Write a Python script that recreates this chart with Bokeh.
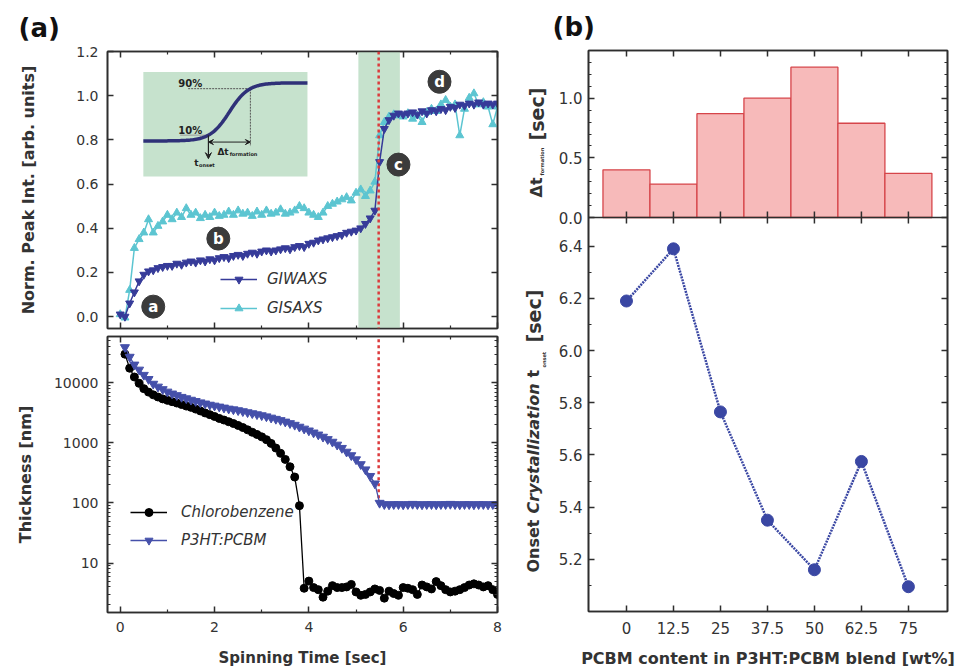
import numpy as np
from bokeh.plotting import figure
from bokeh.layouts import row, column
from bokeh.models import (LinearAxis, LogAxis, FixedTicker, Range1d, BoxAnnotation, Span,
                          Legend, LegendItem, Arrow, VeeHead, NumeralTickFormatter,
                          BasicTickFormatter, CustomLabelingPolicy)
from bokeh.core.properties import value
from bokeh.embed import file_html
from bokeh.resources import INLINE

FONT = "DejaVu Sans"
FRAME = "#2e2e2e"
TXT = "#333333"

# ---------------- (a) top: normalised peak intensity vs spinning time ----------------
time_xrd = [round(0.1 * i, 1) for i in range(81)]
giwaxs = [0.01, 0.00, 0.06, 0.11, 0.16, 0.19, 0.205, 0.21, 0.22, 0.225,
          0.23, 0.23, 0.24, 0.235, 0.245, 0.25, 0.245, 0.255, 0.25, 0.26,
          0.255, 0.265, 0.27, 0.265, 0.275, 0.28, 0.275, 0.285, 0.29, 0.285,
          0.295, 0.30, 0.295, 0.30, 0.305, 0.31, 0.305, 0.315, 0.32, 0.315,
          0.33, 0.335, 0.345, 0.35, 0.355, 0.36, 0.365, 0.37, 0.38, 0.385,
          0.39, 0.40, 0.42, 0.445, 0.48, 0.70, 0.85, 0.89, 0.91, 0.92,
          0.915, 0.92, 0.925, 0.915, 0.93, 0.92, 0.935, 0.93, 0.94, 0.935,
          0.95, 0.945, 0.96, 0.955, 0.965, 0.96, 0.97, 0.96, 0.965, 0.96,
          0.965]
gisaxs = [0.01, -0.005, 0.12, 0.31, 0.35, 0.38, 0.44, 0.38, 0.41, 0.43,
          0.46, 0.44, 0.47, 0.45, 0.49, 0.46, 0.47, 0.445, 0.46, 0.45,
          0.47, 0.455, 0.46, 0.475, 0.46, 0.48, 0.465, 0.47, 0.455, 0.475,
          0.46, 0.48, 0.465, 0.47, 0.485, 0.465, 0.47, 0.48, 0.50, 0.49,
          0.47, 0.46, 0.45, 0.47, 0.50, 0.51, 0.52, 0.53, 0.54, 0.525,
          0.56, 0.575, 0.545, 0.57, 0.61, 0.82, 0.88, 0.905, 0.915, 0.91,
          0.905, 0.92, 0.895, 0.91, 0.88, 0.925, 0.94, 0.93, 0.96, 0.98,
          0.95, 0.96, 0.82, 0.94, 0.99, 1.01, 0.96, 0.97, 0.95, 0.87,
          0.95]

# ---------------- (a) bottom: film thickness (nm) vs spinning time ----------------
time_thk = [round(0.1 * i, 1) for i in range(1, 81)]
chlorobenzene = [30000, 17500, 12500, 9800, 8000, 7000, 6300, 5800, 5400, 5100,
                 4850, 4600, 4350, 4100, 3900, 3650, 3400, 3150, 2950, 2750,
                 2550, 2400, 2250, 2100, 1950, 1800, 1650, 1500, 1380, 1260,
                 1130, 980, 820, 670, 530, 400, 270, 90, 3.8, 5.0,
                 3.9, 3.6, 2.7, 3.4, 4.2, 3.9, 3.9, 4.0, 4.4, 3.3,
                 2.9, 3.0, 3.3, 3.7, 3.5, 2.6, 3.4, 3.1, 2.9, 3.9,
                 3.8, 3.6, 3.0, 4.3, 4.0, 3.7, 4.9, 4.2, 3.6, 3.3,
                 3.4, 3.6, 3.9, 4.3, 4.5, 4.3, 4.0, 4.2, 3.6, 3.0]
p3ht_pcbm = [39000, 27000, 20000, 16500, 13500, 11500, 9600, 8600, 7800, 7100,
             6600, 6200, 5800, 5500, 5200, 4950, 4700, 4500, 4300, 4150,
             4000, 3850, 3700, 3600, 3480, 3350, 3220, 3100, 2980, 2870,
             2750, 2620, 2500, 2380, 2250, 2120, 1990, 1850, 1720, 1600,
             1480, 1370, 1260, 1150, 1040, 930, 820, 710, 620, 530,
             440, 360, 280, 210, 100,
             95, 94, 95, 95, 94, 95, 96, 95, 94, 95, 95, 94, 95,
             95, 96, 95, 94, 95, 95, 94, 95, 95, 94, 95, 95]

onset_time = 5.48                 # film reaches its final thickness
transition_window = (5.05, 5.93)  # crystallisation window (c)

# stage markers a-d
stage_text = ["a", "b", "c", "d"]
stage_x = [0.70, 2.08, 5.90, 6.77]
stage_y = [0.045, 0.353, 0.688, 1.063]

# ---------------- (b) ----------------
pcbm_wt = [0, 12.5, 25, 37.5, 50, 62.5, 75]
pcbm_labels = ["0", "12.5", "25", "37.5", "50", "62.5", "75"]
dt_formation = [0.40, 0.28, 0.87, 1.00, 1.26, 0.79, 0.37]
t_onset = [6.19, 6.39, 5.765, 5.35, 5.16, 5.575, 5.095]
dt_major = [0.0, 0.5, 1.0]
dt_labels = ["0.0", "0.5", "1.0"]
onset_major = [5.2, 5.4, 5.6, 5.8, 6.0, 6.2, 6.4]
onset_labels = ["5.2", "5.4", "5.6", "5.8", "6.0", "6.2", "6.4"]

NAVY = "#363b99"
BLUE = "#4550aa"
CYAN = "#5cc5d1"
RED = "#dc3a3c"
GREEN = "#c6e2cd"

# axes that only carry ticks: drop every tick label
NO_LABELS = CustomLabelingPolicy(code="""
for (const i of indices) { indices.unset(i) }
return indices
""")


def new_fig(w, h, xr, yr, left, right, top, bottom, ytype="linear", title=None, title_offset=0):
    p = figure(width=w, height=h, x_range=xr, y_range=yr, y_axis_type=ytype,
               x_axis_location=None, y_axis_location=None,
               output_backend="svg", toolbar_location=None, title=title,
               min_border_left=left, min_border_right=right,
               min_border_top=top, min_border_bottom=bottom)
    p.grid.visible = False
    p.outline_line_color = FRAME
    p.outline_line_width = 1.6
    p.background_fill_color = "white"
    p.border_fill_color = "white"
    if title:
        p.title.text_font = FONT
        p.title.text_font_size = "26px"
        p.title.text_font_style = "bold"
        p.title.text_color = "#111111"
        p.title.align = "left"
        p.title.offset = title_offset
        p.title.standoff = 9
    return p


def add_axis(p, side, ticker, labels=True, log=False, major=6, minor=3, size="14px", **kw):
    ax = (LogAxis if log else LinearAxis)(ticker=ticker)
    ax.axis_line_color = FRAME
    ax.axis_line_width = 1.6
    ax.major_tick_line_color = FRAME
    ax.major_tick_line_width = 1.5
    ax.minor_tick_line_color = FRAME
    ax.minor_tick_line_width = 1.2
    ax.major_tick_in = major
    ax.major_tick_out = 0
    ax.minor_tick_in = minor
    ax.minor_tick_out = 0
    ax.major_label_text_font = FONT
    ax.major_label_text_color = TXT
    ax.axis_label_text_font = FONT
    ax.axis_label_text_font_style = "bold"
    ax.axis_label_text_color = TXT
    if labels:
        ax.major_label_text_font_size = size
    else:
        ax.major_label_text_font_size = "1px"
        ax.major_label_standoff = 0
        ax.major_label_policy = NO_LABELS
    for k, v in kw.items():
        setattr(ax, k, v)
    p.add_layout(ax, side)
    return ax


xr_time = Range1d(-0.27, 8.0)
time_ticks = FixedTicker(ticks=[0, 2, 4, 6, 8], minor_ticks=[1, 3, 5, 7])

# ---------- panel (a) top ----------
f1 = new_fig(510, 332, xr_time, Range1d(-0.054, 1.2), 107, 13, 51, 0,
             title="(a)", title_offset=-89)
int_ticks = FixedTicker(ticks=[0, 0.2, 0.4, 0.6, 0.8, 1.0, 1.2], minor_ticks=[])
add_axis(f1, "left", int_ticks, formatter=NumeralTickFormatter(format="0.0"),
         axis_label="Norm. Peak Int. [arb. units]", axis_label_text_font_size="16px",
         major_label_standoff=9, axis_label_standoff=35)
add_axis(f1, "right", int_ticks, labels=False)
add_axis(f1, "above", time_ticks, labels=False)
add_axis(f1, "below", time_ticks, labels=False)

f1.add_layout(BoxAnnotation(left=transition_window[0], right=transition_window[1],
                            fill_color=GREEN, fill_alpha=1.0, line_alpha=0, level="underlay"))

# schematic inset: definition of t_onset and delta t_formation
f1.add_layout(BoxAnnotation(left=0.49, right=3.97, bottom=0.634, top=1.107,
                            fill_color=GREEN, fill_alpha=1.0, line_alpha=0, level="underlay"))
sx = np.linspace(0.49, 3.97, 120)
lo, hi, x10, x90 = 0.795, 1.058, 1.87, 2.76
kk = 2 * np.log(9) / (x90 - x10)
sy = lo + (hi - lo) / (1 + np.exp(-kk * (sx - 0.5 * (x10 + x90))))
y10, y90 = lo + 0.1 * (hi - lo), lo + 0.9 * (hi - lo)
f1.segment(x0=[1.44, x90], y0=[y90, y90], x1=[x90, x90], y1=[y90, 0.772],
           line_color="#555555", line_dash="2 1", line_width=1)
f1.segment(x0=[1.27], y0=[y10], x1=[x10], y1=[y10], line_color="#999999", line_width=1)
f1.line(sx, sy, line_color="#2f3178", line_width=3.5)
f1.add_layout(Arrow(start=VeeHead(size=5, line_color="#222222", line_width=1),
                    end=VeeHead(size=5, line_color="#222222", line_width=1),
                    x_start=x10, y_start=0.79, x_end=x90, y_end=0.79,
                    line_color="#222222", line_width=1))
f1.add_layout(Arrow(end=VeeHead(size=6, fill_color="#222222", line_color="#222222"),
                    x_start=x10, y_start=y10, x_end=x10, y_end=0.715,
                    line_color="#222222", line_width=1.2))
f1.text(x=[1.23, 1.23], y=[1.053, 0.842], text=["90%", "10%"], text_font=value(FONT),
        text_font_style="bold", text_font_size="10px", text_color="#222222",
        text_baseline="middle")
f1.text(x=[2.06, 1.57], y=[0.745, 0.695], text=["\u0394t", "t"], text_font=value(FONT),
        text_font_size="9px", text_font_style="bold", text_color="#222222",
        text_baseline="middle")
f1.text(x=[2.32, 1.67], y=[0.738, 0.684], text=["formation", "onset"], text_font=value(FONT),
        text_font_size="5px", text_font_style="bold", text_color="#222222",
        text_baseline="middle")

f1.add_layout(Span(location=onset_time, dimension="height", line_color=RED,
                   line_dash="3 3", line_width=2.5))

l_gs = f1.line(time_xrd, gisaxs, line_color=CYAN, line_width=1.5)
s_gs = f1.scatter(time_xrd, gisaxs, marker="triangle", size=8, fill_color=CYAN, line_color=CYAN)
l_gw = f1.line(time_xrd, giwaxs, line_color=NAVY, line_width=1.5)
s_gw = f1.scatter(time_xrd, giwaxs, marker="inverted_triangle", size=8, fill_color=NAVY, line_color=NAVY)

f1.scatter(stage_x, stage_y, marker="circle", size=23, fill_color="#3b3b3b", line_color="#3b3b3b")
f1.text(x=stage_x, y=stage_y, text=stage_text, text_align="center", text_baseline="middle",
        text_color="white", text_font=value(FONT), text_font_style="bold", text_font_size="15px")

leg1 = Legend(items=[LegendItem(label="GIWAXS", renderers=[l_gw, s_gw]),
                     LegendItem(label="GISAXS", renderers=[l_gs, s_gs])],
              location=(113, 10), background_fill_alpha=0, border_line_alpha=0,
              glyph_width=37, glyph_height=20, label_height=20, spacing=9, padding=0,
              margin=0, label_standoff=10, label_text_font=FONT, label_text_font_size="15px",
              label_text_font_style="italic", label_text_color=TXT)
f1.add_layout(leg1)

# ---------- panel (a) bottom ----------
f2 = new_fig(510, 339, xr_time, Range1d(1.5, 59000), 107, 13, 0, 59, ytype="log")
decades = [10, 100, 1000, 10000]
minors = [m * 10 ** e for e in range(0, 5) for m in range(2, 10)]
thk_ticks = FixedTicker(ticks=decades, minor_ticks=minors)
add_axis(f2, "left", thk_ticks, log=True, formatter=BasicTickFormatter(use_scientific=False),
         axis_label="Thickness [nm]", axis_label_text_font_size="16px",
         major_label_standoff=9, axis_label_standoff=16)
add_axis(f2, "right", thk_ticks, labels=False, log=True)
add_axis(f2, "above", time_ticks, labels=False)
add_axis(f2, "below", time_ticks, axis_label="Spinning Time [sec]",
         axis_label_text_font_size="15px", major_label_standoff=9, axis_label_standoff=14)

f2.segment(x0=[onset_time], y0=[p3ht_pcbm[-1]], x1=[onset_time], y1=[59000],
           line_color=RED, line_dash="3 3", line_width=2.5)

l_cb = f2.line(time_thk, chlorobenzene, line_color="black", line_width=1.3)
s_cb = f2.scatter(time_thk, chlorobenzene, marker="circle", size=8, fill_color="black", line_color="black")
l_pp = f2.line(time_thk, p3ht_pcbm, line_color=BLUE, line_width=1.3)
s_pp = f2.scatter(time_thk, p3ht_pcbm, marker="inverted_triangle", size=9, fill_color=BLUE, line_color=BLUE)

leg2 = Legend(items=[LegendItem(label="Chlorobenzene", renderers=[l_cb, s_cb]),
                     LegendItem(label="P3HT:PCBM", renderers=[l_pp, s_pp])],
              location=(23, 62), background_fill_alpha=0, border_line_alpha=0,
              glyph_width=37, glyph_height=20, label_height=20, spacing=8, padding=0,
              margin=0, label_standoff=14, label_text_font=FONT, label_text_font_size="15px",
              label_text_font_style="italic", label_text_color=TXT)
f2.add_layout(leg2)

# ---------- panel (b): bars on top, onset time below, sharing one frame ----------
BAR_PX, ON_PX = 167, 394          # heights of the two stacked plot areas
on_lo, on_hi, dt_hi = 5.0, 6.51, 1.40
main_per_px = (on_hi - on_lo) / ON_PX
dt_per_px = dt_hi / BAR_PX


def dt_to_main(v):
    return on_hi + v / dt_per_px * main_per_px


xr_pcbm = Range1d(-10.1, 85.4)
fb = new_fig(411, 671, xr_pcbm, Range1d(on_lo, on_hi + BAR_PX * main_per_px), 38, 14, 50, 60,
             title="(b)", title_offset=-36)
fb.extra_y_ranges = {"dt": Range1d(dt_hi - (BAR_PX + ON_PX) * dt_per_px, dt_hi)}

left_major = onset_major + [dt_to_main(v) for v in dt_major]
left_minor = [5.1, 5.3, 5.5, 5.7, 5.9, 6.1, 6.3] + \
             [dt_to_main(v / 10) for v in range(1, 14) if v not in (5, 10)]
left_text = dict(zip(left_major, onset_labels + dt_labels))
yb_ticks = FixedTicker(ticks=left_major, minor_ticks=left_minor)
pcbm_ticks = FixedTicker(ticks=pcbm_wt, minor_ticks=[])

add_axis(fb, "left", yb_ticks, major_label_overrides=left_text,
         major_label_standoff=6, size="15px")
add_axis(fb, "right", yb_ticks, labels=False)
add_axis(fb, "above", pcbm_ticks, labels=False)
add_axis(fb, "below", pcbm_ticks, major_label_overrides=dict(zip(pcbm_wt, pcbm_labels)),
         axis_label="PCBM content in P3HT:PCBM blend [wt%]", axis_label_text_font_size="16px",
         major_label_standoff=10, axis_label_standoff=12, size="15px")

fb.vbar(x=pcbm_wt, top=dt_formation, bottom=0, width=12.5, y_range_name="dt",
        fill_color="#f7baba", line_color="#d6454a", line_width=1.3)

# divider between the two stacked panels, with ticks crossing it
fb.add_layout(Span(location=on_hi, dimension="width", line_color=FRAME, line_width=1.6))
tick_half = 6 * main_per_px
fb.segment(x0=pcbm_wt, y0=[on_hi - tick_half] * len(pcbm_wt), x1=pcbm_wt,
           y1=[on_hi + tick_half] * len(pcbm_wt), line_color=FRAME, line_width=1.5)

fb.line(pcbm_wt, t_onset, line_color="#3a47a3", line_width=2.5, line_dash="2 1")
fb.scatter(pcbm_wt, t_onset, marker="circle", size=12, fill_color="#3a47a3", line_color="#3a47a3")

# strip holding the two y-axis titles of panel (b) (they carry subscripts);
# its plot area lines up with the 50..611 px band of the panel, y counted up from the page bottom
strip = figure(width=40, height=671, x_range=Range1d(0, 40), y_range=Range1d(60, 621),
               x_axis_location=None, y_axis_location=None, output_backend="svg",
               toolbar_location=None, min_border=0)
strip.grid.visible = False
strip.outline_line_color = None
strip.border_fill_color = "white"
strip.background_fill_color = "white"
for txt, xx, yy, fs, st in [("\u0394t", 26, 474, "16px", "bold"),
                            ("formation", 31, 496, "5px", "bold"),
                            ("[sec]", 26, 531, "19px", "bold"),
                            ("Onset", 23, 99, "16px", "bold"),
                            ("Crystallization", 23, 158, "16px", "bold italic"),
                            ("t", 23, 294, "16px", "bold"),
                            ("onset", 33, 304, "5px", "bold"),
                            ("[sec]", 23, 329, "19px", "bold")]:
    strip.text(x=[xx], y=[yy], text=[txt], angle=np.pi / 2, text_align="left",
               text_baseline="middle", text_font=value(FONT), text_font_style=st,
               text_font_size=fs, text_color=TXT)

page = row(column(f1, f2, spacing=0), strip, fb, spacing=0)
open("out.html", "w").write(file_html(page, INLINE))
